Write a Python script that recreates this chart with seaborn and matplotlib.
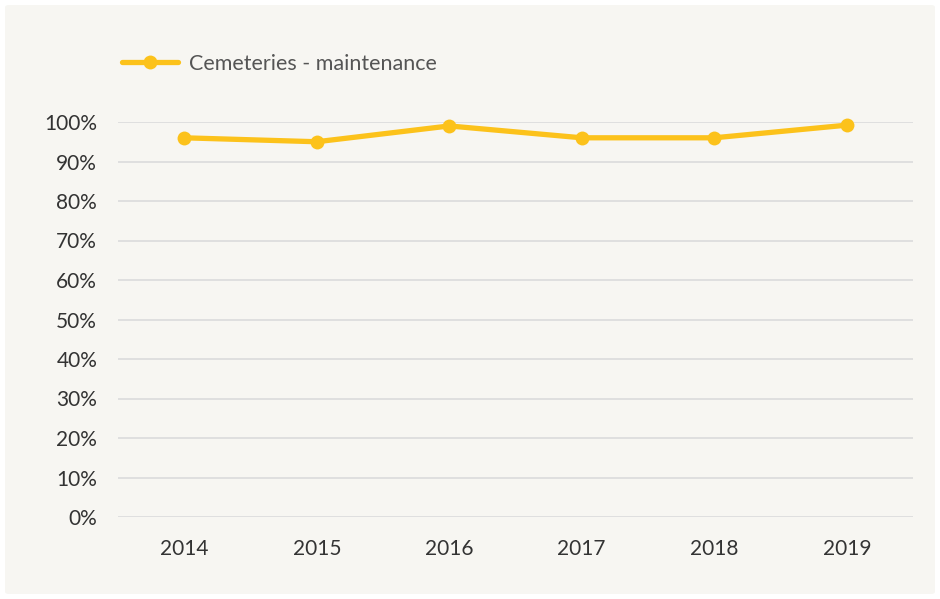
import matplotlib
matplotlib.use("Agg")
import matplotlib.pyplot as plt
from matplotlib.patches import FancyBboxPatch
from matplotlib.ticker import PercentFormatter
import seaborn as sns
import pandas as pd

years = ["2014", "2015", "2016", "2017", "2018", "2019"]
values = [96, 95, 99, 96, 96, 99.2]
series_name = "Cemeteries - maintenance"
yticks = [0, 10, 20, 30, 40, 50, 60, 70, 80, 90, 100]

df = pd.DataFrame({"year": years, "value": values, "series": series_name})

sns.set_theme(style="white")
plt.rcParams["font.family"] = ["Lato", "DejaVu Sans"]

fig = plt.figure(figsize=(9.4, 5.99), dpi=100)
fig.patch.set_facecolor("white")
panel = FancyBboxPatch((5 / 940, 5 / 599), 930 / 940, 589 / 599,
                       boxstyle="round,pad=0,rounding_size=0.004",
                       transform=fig.transFigure, facecolor="#f7f6f2",
                       edgecolor="none", zorder=-10)
fig.patches.append(panel)

ax = fig.add_axes([118 / 940, 1 - 517 / 599, 795 / 940, 395 / 599])
ax.set_facecolor("none")
ax.set_zorder(5)

color = "#fcc21b"
sns.lineplot(data=df, x="year", y="value", hue="series", palette=[color],
             marker="o", markersize=10, linewidth=3.8, markeredgewidth=0,
             sort=False, ax=ax)

ax.set_xlim(-0.5, len(years) - 0.5)
ax.set_ylim(0, 100)
ax.set_yticks(yticks)
ax.yaxis.set_major_formatter(PercentFormatter(decimals=0))
ax.grid(axis="y", color="#dddddd", linewidth=1.3)
ax.grid(axis="x", visible=False)
ax.set_axisbelow(True)
for s in ax.spines.values():
    s.set_visible(False)
ax.set_xlabel("")
ax.set_ylabel("")
ax.tick_params(axis="y", length=0, pad=15, labelsize=15, labelcolor="#333333")
ax.tick_params(axis="x", length=0, pad=16, labelsize=15, labelcolor="#333333")
for ln in ax.get_lines():
    ln.set_clip_on(False)

leg = ax.legend(loc="lower left", bbox_to_anchor=(0.005, 1.122), frameon=False,
                fontsize=15.5, handlelength=2.6, handletextpad=0.5,
                borderaxespad=0, borderpad=0)
for t in leg.get_texts():
    t.set_color("#555555")
for h in leg.legend_handles:
    h.set_linewidth(3.8)

fig.savefig("out.png", dpi=100, facecolor=fig.get_facecolor())
